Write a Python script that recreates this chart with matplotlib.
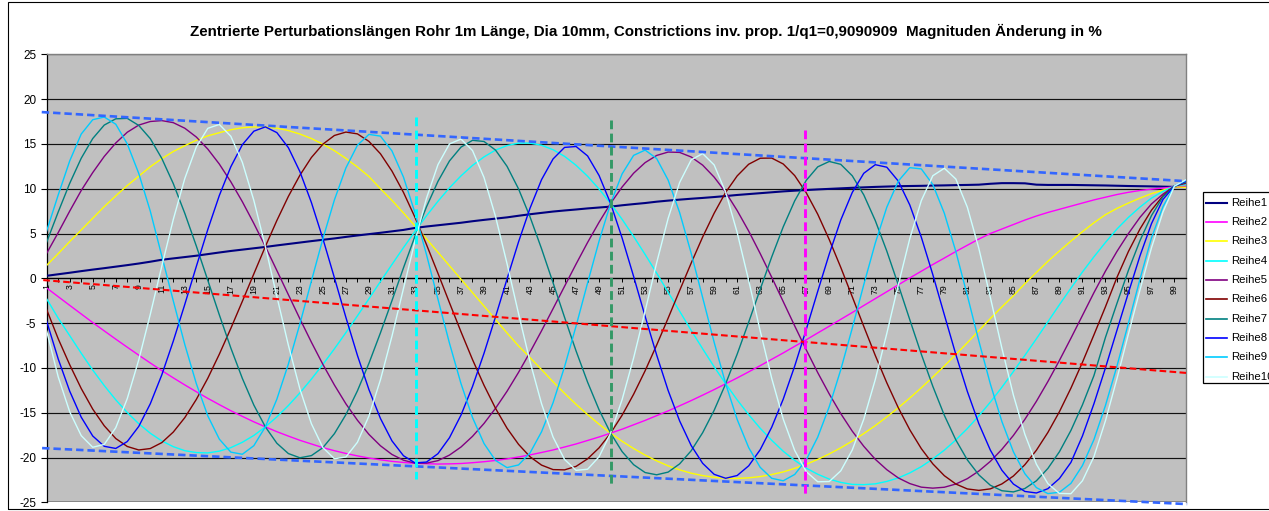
import matplotlib
matplotlib.use('Agg')
import matplotlib.pyplot as plt
from matplotlib.lines import Line2D
from matplotlib.patches import Rectangle

plt.rcParams['font.family'] = ['Liberation Sans', 'DejaVu Sans']
plt.rcParams['axes.unicode_minus'] = False

# ---------------- data ----------------
categories = list(range(1, 101))
tick_labels = [str(i) if i % 2 == 1 else '' for i in categories]
y_ticks = [-25, -20, -15, -10, -5, 0, 5, 10, 15, 20, 25]

title_text = ("Zentrierte Perturbationslängen Rohr 1m Länge, Dia 10mm, Constrictions inv. prop. "
              "1/q1=0,9090909  Magnituden Änderung in %")

series_names = ['Reihe1', 'Reihe2', 'Reihe3', 'Reihe4', 'Reihe5',
                'Reihe6', 'Reihe7', 'Reihe8', 'Reihe9', 'Reihe10']
series_colors = ['#000080', '#FF00FF', '#FFFF00', '#00FFFF', '#800080',
                 '#800000', '#008080', '#0000FF', '#00CCFF', '#CCFFFF']

reihe1 = [0.28, 0.45, 0.62, 0.8, 0.97, 1.13, 1.3, 1.47, 1.65, 1.85,
          2.07, 2.22, 2.37, 2.52, 2.7, 2.88, 3.05, 3.2, 3.35, 3.5,
          3.67, 3.83, 3.99, 4.15, 4.3, 4.45, 4.62, 4.78, 4.93, 5.08,
          5.24, 5.4, 5.62, 5.78, 5.92, 6.06, 6.2, 6.37, 6.52, 6.66,
          6.8, 6.98, 7.15, 7.3, 7.45, 7.57, 7.68, 7.8, 7.9, 8.0,
          8.15, 8.28, 8.4, 8.55, 8.67, 8.78, 8.88, 8.97, 9.07, 9.18,
          9.3, 9.4, 9.5, 9.6, 9.7, 9.78, 9.85, 9.92, 9.98, 10.04,
          10.1, 10.15, 10.2, 10.24, 10.28, 10.3, 10.32, 10.35, 10.37, 10.4,
          10.42, 10.45, 10.55, 10.62, 10.62, 10.6, 10.45, 10.42, 10.42, 10.42,
          10.4, 10.38, 10.36, 10.33, 10.3, 10.28, 10.26, 10.23, 10.2, 10.2]

reihe2 = [-1.08, -2.05, -3.02, -3.98, -4.94, -5.87, -6.79, -7.69, -8.58, -9.45,
          -10.30, -11.11, -11.90, -12.66, -13.40, -14.10, -14.78, -15.41, -16.02, -16.58,
          -17.12, -17.61, -18.08, -18.49, -18.90, -19.24, -19.55, -19.82, -20.06, -20.26,
          -20.43, -20.55, -20.65, -20.69, -20.73, -20.71, -20.67, -20.58, -20.47, -20.33,
          -20.16, -19.94, -19.71, -19.44, -19.16, -18.83, -18.49, -18.10, -17.71, -17.28,
          -16.84, -16.35, -15.86, -15.33, -14.80, -14.23, -13.65, -13.04, -12.42, -11.77,
          -11.12, -10.44, -9.75, -9.04, -8.33, -7.59, -6.86, -6.10, -5.35, -4.58,
          -3.82, -3.04, -2.27, -1.50, -0.73, 0.04, 0.79, 1.54, 2.26, 2.99,
          3.69, 4.38, 5.0, 5.5, 6.0, 6.5, 6.95, 7.35, 7.7, 8.05,
          8.4, 8.75, 9.05, 9.35, 9.6, 9.8, 9.95, 10.07, 10.2, 10.2]

reihe3 = [1.45, 2.75, 4.1, 5.4, 6.7, 8.0, 9.2, 10.35, 11.4, 12.45,
          13.35, 14.15, 14.8, 15.4, 15.9, 16.25, 16.58, 16.80, 16.90, 16.90,
          16.75, 16.49, 16.10, 15.60, 14.97, 14.24, 13.38, 12.42, 11.36, 10.0,
          8.7, 7.3, 5.85, 4.4, 2.9, 1.4, -0.1, -1.6, -3.1, -4.6,
          -6.1, -7.55, -8.85, -10.19, -11.55, -12.84, -14.07, -15.21, -16.29, -17.28,
          -18.19, -19.00, -19.73, -20.37, -20.93, -21.38, -21.75, -22.02, -22.21, -22.32,
          -22.34, -22.27, -22.13, -21.90, -21.61, -21.21, -20.76, -20.21, -19.60, -18.92,
          -18.16, -17.33, -16.44, -15.47, -14.45, -13.36, -12.22, -11.02, -9.79, -8.50,
          -7.19, -5.84, -4.49, -3.2, -1.95, -0.6, 0.65, 1.9, 3.05, 4.15,
          5.2, 6.2, 7.1, 7.8, 8.4, 8.95, 9.45, 9.85, 10.2, 10.15]

reihe4 = [-2.3, -4.45, -6.4, -8.36, -10.24, -11.97, -13.56, -14.98, -16.23, -17.29,
          -18.15, -18.79, -19.24, -19.45, -19.49, -19.29, -18.90, -18.30, -17.54, -16.58,
          -15.47, -14.20, -12.79, -11.25, -9.61, -7.87, -6.06, -4.19, -2.29, -0.36,
          1.54, 3.42, 5.23, 6.97, 8.60, 10.10, 11.43, 12.60, 13.55, 14.31,
          14.81, 15.09, 15.09, 14.85, 14.35, 13.61, 12.61, 11.39, 9.96, 8.36,
          6.58, 4.67, 2.66, 0.58, -1.55, -3.68, -5.81, -7.87, -9.88, -11.77,
          -13.57, -15.22, -16.74, -18.08, -19.30, -20.32, -21.19, -21.87, -22.41, -22.78,
          -23.00, -23.03, -22.94, -22.67, -22.28, -21.72, -21.02, -20.16, -19.18, -18.04,
          -16.77, -15.35, -13.82, -12.16, -10.41, -8.6, -6.75, -4.85, -2.95, -1.1,
          0.7, 2.4, 4.0, 5.5, 6.8, 7.95, 8.95, 9.7, 10.3, 10.5]

reihe5 = [2.8, 5.1, 7.5, 9.8, 11.8, 13.6, 15.1, 16.3, 17.1, 17.5,
          17.6, 17.37, 16.75, 15.77, 14.42, 12.75, 10.77, 8.55, 6.12, 3.55,
          0.87, -1.83, -4.52, -7.13, -9.61, -11.91, -14.01, -15.84, -17.42, -18.69,
          -19.66, -20.30, -20.63, -20.63, -20.35, -19.73, -18.83, -17.64, -16.20, -14.51,
          -12.61, -10.50, -8.24, -5.86, -3.39, -0.89, 1.59, 4.00, 6.26, 8.36,
          10.19, 11.73, 12.91, 13.71, 14.09, 14.05, 13.54, 12.63, 11.29, 9.60,
          7.56, 5.27, 2.76, 0.12, -2.60, -5.32, -7.98, -10.53, -12.91, -15.10,
          -17.06, -18.75, -20.20, -21.36, -22.28, -22.91, -23.31, -23.42, -23.32, -22.96,
          -22.36, -21.51, -20.43, -19.09, -17.54, -15.74, -13.73, -11.52, -9.17, -6.69,
          -4.15, -1.6, 0.8, 3.0, 5.0, 6.8, 8.3, 9.4, 10.3, 10.6]

reihe6 = [-3.5, -6.75, -9.65, -12.3, -14.6, -16.46, -17.88, -18.77, -19.16, -19.00,
          -18.34, -17.16, -15.55, -13.52, -11.15, -8.47, -5.59, -2.57, 0.50, 3.55,
          6.45, 9.14, 11.50, 13.48, 14.97, 15.94, 16.32, 16.12, 15.28, 13.90,
          11.97, 9.59, 6.81, 3.77, 0.55, -2.73, -5.97, -9.07, -11.94, -14.51,
          -16.73, -18.53, -19.92, -20.85, -21.35, -21.38, -20.99, -20.15, -18.92, -17.28,
          -15.28, -12.94, -10.32, -7.46, -4.45, -1.36, 1.69, 4.61, 7.27, 9.60,
          11.43, 12.73, 13.40, 13.42, 12.76, 11.46, 9.55, 7.15, 4.32, 1.22,
          -2.06, -5.37, -8.61, -11.66, -14.45, -16.91, -19.01, -20.71, -22.03, -22.96,
          -23.51, -23.67, -23.50, -22.95, -22.07, -20.80, -19.19, -17.20, -14.89, -12.26,
          -9.38, -6.31, -3.18, 0.1, 3.0, 5.5, 7.6, 9.2, 10.3, 10.7]

reihe7 = [4.05, 7.4, 10.6, 13.4, 15.6, 17.1, 17.8, 17.85, 17.06, 15.59,
          13.38, 10.57, 7.25, 3.61, -0.23, -4.08, -7.78, -11.17, -14.15, -16.58,
          -18.41, -19.56, -20.03, -19.79, -18.90, -17.34, -15.21, -12.56, -9.49, -6.09,
          -2.50, 1.16, 4.69, 7.97, 10.82, 13.10, 14.64, 15.40, 15.27, 14.31,
          12.50, 9.98, 6.85, 3.30, -0.50, -4.36, -8.11, -11.59, -14.68, -17.28,
          -19.34, -20.80, -21.68, -21.93, -21.63, -20.71, -19.25, -17.23, -14.73, -11.77,
          -8.46, -4.89, -1.23, 2.38, 5.74, 8.65, 10.93, 12.44, 13.04, 12.72,
          11.44, 9.31, 6.44, 3.04, -0.73, -4.63, -8.47, -12.06, -15.29, -18.04,
          -20.27, -21.94, -23.10, -23.71, -23.84, -23.46, -22.60, -21.22, -19.36, -16.98,
          -14.13, -10.86, -6.6, -2.8, 0.9, 4.2, 7.0, 9.1, 10.3, 10.75]

reihe8 = [-4.8, -9.0, -12.6, -15.5, -17.6, -18.75, -18.99, -18.22, -16.53, -14.01,
          -10.78, -7.01, -2.91, 1.32, 5.45, 9.24, 12.45, 14.91, 16.42, 16.90,
          16.26, 14.58, 11.91, 8.46, 4.42, 0.06, -4.37, -8.60, -12.42, -15.64,
          -18.14, -19.80, -20.60, -20.51, -19.57, -17.79, -15.27, -12.08, -8.37, -4.30,
          -0.08, 4.06, 7.83, 11.01, 13.32, 14.61, 14.71, 13.66, 11.47, 8.36,
          4.50, 0.21, -4.24, -8.55, -12.52, -15.92, -18.66, -20.65, -21.88, -22.32,
          -22.01, -20.93, -19.13, -16.62, -13.49, -9.79, -5.71, -1.45, 2.71, 6.50,
          9.58, 11.72, 12.68, 12.40, 10.85, 8.18, 4.59, 0.41, -4.07, -8.50,
          -12.63, -16.23, -19.18, -21.42, -22.96, -23.79, -23.96, -23.48, -22.35, -20.55,
          -17.6, -14.0, -10.0, -5.8, -1.6, 2.5, 6.1, 8.8, 10.3, 10.85]

reihe9 = [5.3, 9.3, 13.1, 16.1, 17.7, 18.0, 17.2, 15.0, 11.7, 7.5,
          2.5, -2.52, -7.39, -11.75, -15.36, -17.95, -19.40, -19.64, -18.68, -16.58,
          -13.49, -9.57, -5.09, -0.31, 4.42, 8.75, 12.32, 14.85, 16.06, 15.87,
          14.22, 11.30, 7.32, 2.65, -2.34, -7.25, -11.75, -15.54, -18.44, -20.33,
          -21.13, -20.83, -19.49, -17.13, -13.89, -9.87, -5.33, -0.52, 4.16, 8.36,
          11.65, 13.72, 14.31, 13.37, 10.96, 7.33, 2.81, -2.15, -7.15, -11.77,
          -15.76, -18.90, -21.10, -22.32, -22.60, -21.89, -20.27, -17.72, -14.33, -10.20,
          -5.56, -0.71, 3.93, 7.93, 10.85, 12.35, 12.21, 10.46, 7.26, 2.99,
          -1.93, -7.00, -11.80, -15.98, -19.36, -21.81, -23.36, -24.03, -23.88, -22.89,
          -20.9, -18.0, -14.2, -9.8, -5.0, -0.1, 4.5, 8.0, 10.3, 10.95]

reihe10 = [-5.9, -11.0, -14.9, -17.56, -18.86, -18.54, -16.68, -13.43, -9.10, -4.03,
           1.35, 6.57, 11.14, 14.66, 16.74, 17.17, 15.85, 12.95, 8.69, 3.55,
           -2.02, -7.47, -12.34, -16.23, -18.90, -20.14, -19.94, -18.30, -15.37, -11.33,
           -6.47, -1.15, 4.14, 8.93, 12.69, 15.00, 15.54, 14.26, 11.25, 6.90,
           1.64, -3.94, -9.31, -14.00, -17.72, -20.22, -21.43, -21.31, -19.92, -17.28,
           -13.54, -8.89, -3.66, 1.72, 6.69, 10.70, 13.22, 13.92, 12.65, 9.60,
           5.10, -0.25, -5.87, -11.16, -15.71, -19.22, -21.57, -22.71, -22.68, -21.49,
           -19.16, -15.72, -11.30, -6.16, -0.73, 4.44, 8.67, 11.45, 12.28, 11.08,
           7.93, 3.33, -2.14, -7.79, -13.03, -17.42, -20.75, -22.92, -24.01, -24.04,
           -22.6, -19.9, -15.9, -11.2, -6.2, -1.3, 3.4, 7.4, 10.3, 11.0]

series_values = [reihe1, reihe2, reihe3, reihe4, reihe5,
                 reihe6, reihe7, reihe8, reihe9, reihe10]

# hand-drawn marker lines of the original (start/end in data units)
env_upper_x, env_upper_y = [0.57, 100.0], [18.55, 10.84]
env_lower_x, env_lower_y = [0.6, 100.1], [-18.95, -25.2]
mid_x, mid_y = [0.7, 100.0], [-0.2, -10.56]
vline_x = [33.1, 50.0, 66.9]
vline_top = [18.0, 17.7, 16.5]
vline_bottom = [-22.4, -23.1, -24.4]
vline_colors = ['#00FFFF', '#339966', '#FF00FF']

# ---------------- figure ----------------
W, H = 1269, 511
fig = plt.figure(figsize=(W / 100, H / 100), dpi=100)
fig.patch.set_facecolor('white')

# chart-area frame
fig.add_artist(Rectangle((8 / W, 2 / H), (W + 20) / W, (H - 4) / H, transform=fig.transFigure,
                         fill=False, edgecolor='black', lw=0.8))

L, R, T, B = 46.7, 1186.0, 54.3, 502.3
ax = fig.add_axes([L / W, 1 - B / H, (R - L) / W, (B - T) / H])
ax.set_facecolor('#C0C0C0')

# category axis crosses the value axis at 0 (set before tick styling)
ax.spines['bottom'].set_position(('data', 0))
ax.spines['bottom'].set_color('black')
ax.spines['bottom'].set_linewidth(0.9)
ax.spines['left'].set_color('black')
ax.spines['left'].set_linewidth(0.9)
for s in ('top', 'right'):
    ax.spines[s].set_color('#808080')
    ax.spines[s].set_linewidth(1.0)

ax.set_xlim(1, 100)
ax.set_ylim(-25, 25)

ax.set_yticks(y_ticks)
ax.set_yticklabels([str(v) for v in y_ticks], fontsize=8.5)
ax.yaxis.grid(True, color='#111111', lw=0.85)
ax.set_axisbelow(True)

ax.set_xticks(categories)
ax.set_xticklabels(tick_labels, rotation=90, fontsize=6.3)
ax.tick_params(axis='x', direction='out', length=3, width=0.7, pad=1, colors='black')
ax.tick_params(axis='y', direction='out', length=4.3, width=0.8, pad=3.2)
for lab in ax.get_xticklabels():
    lab.set_rotation(90)
    lab.set_fontsize(6.3)

ax.axhline(-25, color='#808080', lw=1.2, zorder=1.5)

for name, vals, col in zip(series_names, series_values, series_colors):
    lw = 1.5 if name == 'Reihe1' else 1.0
    ax.plot(categories, vals, color=col, lw=lw, label=name, zorder=3)

# dashed marker lines
ax.plot(env_upper_x, env_upper_y, color='#3366FF', lw=1.9, ls=(0, (2.8, 1.5)), clip_on=False, zorder=5)
ax.plot(env_lower_x, env_lower_y, color='#3366FF', lw=1.9, ls=(0, (2.8, 1.5)), clip_on=False, zorder=5)
ax.plot(mid_x, mid_y, color='#FF0000', lw=1.5, ls=(0, (3.2, 1.6)), clip_on=False, zorder=5)
for x, yt, yb, c in zip(vline_x, vline_top, vline_bottom, vline_colors):
    ax.plot([x, x], [yt, yb], color=c, lw=2.1, ls=(0, (3.0, 1.5)), zorder=5)

fig.text(646 / W, 1 - 31 / H, title_text, ha='center', va='center',
         fontsize=10.9, fontweight='bold')

# legend (box extends past the right edge as in the original)
top_px, bot_px, left_px = 192, 383, 1203
fig.add_artist(Rectangle((left_px / W, 1 - bot_px / H), 90 / W, (bot_px - top_px) / H,
                         transform=fig.transFigure, facecolor='white', edgecolor='black', lw=0.9))
for k, (name, col) in enumerate(zip(series_names, series_colors)):
    yp = 1 - (202.7 + k * 19.33) / H
    lw = 1.5 if name == 'Reihe1' else 1.2
    fig.add_artist(Line2D([1206 / W, 1227 / W], [yp, yp], transform=fig.transFigure,
                          color=col, lw=lw))
    fig.text(1231.5 / W, yp, name, ha='left', va='center', fontsize=8.2)

fig.savefig('out.png', dpi=100)
